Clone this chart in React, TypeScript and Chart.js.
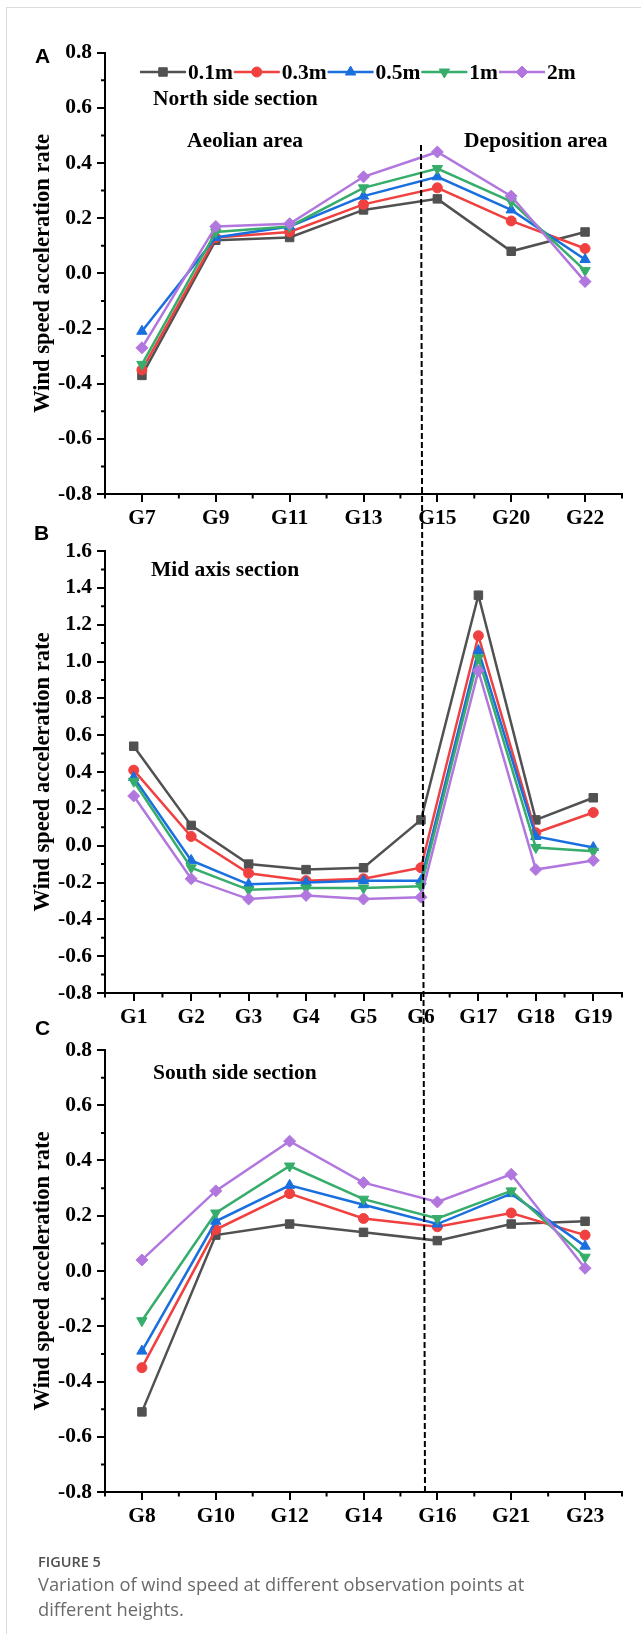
import React, { useEffect, useRef } from 'react';
import { Chart, registerables } from 'chart.js';
import { drawPoint } from 'chart.js/helpers';

Chart.register(...registerables);

// ---------- data ----------
const SERIES_NAMES = ['0.1m', '0.3m', '0.5m', '1m', '2m'];
const COLORS = ['#515151', '#F14040', '#1A6FDF', '#37AD6B', '#B177DE'];
const POINT_STYLES = ['rect', 'circle', 'triangle', 'triangle', 'rectRot'];
const POINT_ROTATIONS = [0, 0, 0, 180, 0];
const POINT_RADII = [6, 5, 6, 6, 6];

const northCategories = ['G7', 'G9', 'G11', 'G13', 'G15', 'G20', 'G22'];
const north01 = [-0.37, 0.12, 0.13, 0.23, 0.27, 0.08, 0.15];
const north03 = [-0.35, 0.13, 0.15, 0.25, 0.31, 0.19, 0.09];
const north05 = [-0.21, 0.13, 0.17, 0.28, 0.35, 0.23, 0.05];
const north1 = [-0.33, 0.15, 0.17, 0.31, 0.38, 0.26, 0.01];
const north2 = [-0.27, 0.17, 0.18, 0.35, 0.44, 0.28, -0.03];

const midCategories = ['G1', 'G2', 'G3', 'G4', 'G5', 'G6', 'G17', 'G18', 'G19'];
const mid01 = [0.54, 0.11, -0.1, -0.13, -0.12, 0.14, 1.36, 0.14, 0.26];
const mid03 = [0.41, 0.05, -0.15, -0.19, -0.18, -0.12, 1.14, 0.07, 0.18];
const mid05 = [0.37, -0.08, -0.21, -0.2, -0.19, -0.19, 1.06, 0.05, -0.01];
const mid1 = [0.35, -0.12, -0.24, -0.23, -0.23, -0.22, 1.02, -0.01, -0.03];
const mid2 = [0.27, -0.18, -0.29, -0.27, -0.29, -0.28, 0.95, -0.13, -0.08];

const southCategories = ['G8', 'G10', 'G12', 'G14', 'G16', 'G21', 'G23'];
const south01 = [-0.51, 0.13, 0.17, 0.14, 0.11, 0.17, 0.18];
const south03 = [-0.35, 0.15, 0.28, 0.19, 0.16, 0.21, 0.13];
const south05 = [-0.29, 0.18, 0.31, 0.24, 0.17, 0.28, 0.09];
const south1 = [-0.18, 0.21, 0.38, 0.26, 0.19, 0.29, 0.05];
const south2 = [0.04, 0.29, 0.47, 0.32, 0.25, 0.35, 0.01];

const northRange = [-0.8, 0.8];
const midRange = [-0.8, 1.6];
const southRange = [-0.8, 0.8];
const Y_STEP = 0.2;
const Y_TITLE = 'Wind speed acceleration rate';

// ---------- styling ----------
const SERIF = '"Liberation Serif", "Times New Roman", serif';
const tickFont = { family: SERIF, size: 21.5, weight: 'bold' as const };

const decorPlugin = {
  id: 'decor',
  afterDraw(chart: any, _args: any, opts: any) {
    const { ctx, chartArea } = chart;
    const xs = chart.scales.x;
    const ys = chart.scales.y;
    ctx.save();
    ctx.strokeStyle = '#000';
    ctx.lineWidth = 2;
    ctx.beginPath();
    const n = chart.data.labels.length;
    for (let i = 0; i <= n; i++) {
      const px = xs.getPixelForValue(i - 0.5);
      ctx.moveTo(px, chartArea.bottom);
      ctx.lineTo(px, chartArea.bottom + 4.5);
    }
    const k0 = Math.round(ys.min * 10);
    const k1 = Math.round(ys.max * 10);
    for (let k = k0; k <= k1; k++) {
      if (k % 2 !== 0) {
        const py = ys.getPixelForValue(k / 10);
        ctx.moveTo(chartArea.left - 4, py);
        ctx.lineTo(chartArea.left, py);
      }
    }
    ctx.stroke();

    if (opts && opts.withLegend) {
      let lx = 140;
      const ly = 72;
      ctx.font = `bold 21.5px ${SERIF}`;
      ctx.textBaseline = 'middle';
      ctx.textAlign = 'left';
      chart.data.datasets.forEach((ds: any, i: number) => {
        ctx.strokeStyle = COLORS[i];
        ctx.lineWidth = 2.5;
        ctx.beginPath();
        ctx.moveTo(lx, ly);
        ctx.lineTo(lx + 46, ly);
        ctx.stroke();
        ctx.fillStyle = COLORS[i];
        ctx.lineWidth = 1;
        drawPoint(ctx, {
          pointStyle: POINT_STYLES[i],
          rotation: POINT_ROTATIONS[i],
          radius: POINT_RADII[i],
          borderWidth: 1,
        } as any, lx + 23, ly);
        ctx.fillStyle = '#000';
        ctx.fillText(ds.label, lx + 48, ly + 1);
        lx += 48 + ctx.measureText(ds.label).width + 1;
      });
    }
    ctx.restore();
  },
};

type PanelProps = {
  top: number;
  height: number;
  plotTop: number;
  plotBottom: number;
  categories: string[];
  series: number[][];
  range: number[];
  withLegend?: boolean;
};

function Panel({ top, height, plotTop, plotBottom, categories, series, range, withLegend }: PanelProps) {
  const ref = useRef<HTMLCanvasElement>(null);
  useEffect(() => {
    const chart = new Chart(ref.current as HTMLCanvasElement, {
      type: 'line',
      data: {
        labels: categories,
        datasets: series.map((d, i) => ({
          label: SERIES_NAMES[i],
          data: d,
          borderColor: COLORS[i],
          backgroundColor: COLORS[i],
          borderWidth: 2.5,
          pointStyle: POINT_STYLES[i] as any,
          pointRotation: POINT_ROTATIONS[i],
          pointRadius: POINT_RADII[i],
          pointBackgroundColor: COLORS[i],
          pointBorderColor: COLORS[i],
          pointBorderWidth: 1,
          tension: 0,
          fill: false,
          order: 4 - i,
        })),
      },
      options: {
        responsive: false,
        animation: false,
        events: [],
        layout: { padding: { left: 0, right: 19, top: plotTop - top, bottom: 0 } },
        plugins: {
          legend: { display: false },
          tooltip: { enabled: false },
          decor: { withLegend: !!withLegend },
        } as any,
        scales: {
          x: {
            type: 'category',
            offset: true,
            grid: {
              display: true,
              drawOnChartArea: false,
              drawTicks: true,
              tickLength: 8,
              offset: false,
              color: '#000',
              lineWidth: 2,
            },
            border: { display: true, color: '#000', width: 2 },
            ticks: { font: tickFont, color: '#000', padding: 4, maxRotation: 0, autoSkip: false },
            afterFit: (s: any) => {
              s.height = top + height - plotBottom;
            },
          },
          y: {
            min: range[0],
            max: range[1],
            ticks: {
              stepSize: Y_STEP,
              font: tickFont,
              color: '#000',
              padding: 5,
              callback: (v: any) => {
                const r = Math.round(Number(v) * 10) / 10;
                return (r === 0 ? 0 : r).toFixed(1);
              },
            },
            grid: { drawOnChartArea: false, drawTicks: true, tickLength: 8, color: '#000', lineWidth: 2 },
            border: { display: true, color: '#000', width: 2 },
            title: {
              display: true,
              text: Y_TITLE,
              color: '#000',
              font: { family: SERIF, size: 22.5, weight: 'bold' },
              padding: { top: 30, bottom: 0 },
            },
            afterFit: (s: any) => {
              s.width = 105;
            },
          },
        },
      } as any,
      plugins: [decorPlugin],
    });
    return () => chart.destroy();
  }, []);
  return (
    <canvas
      ref={ref}
      width={641}
      height={height}
      style={{ position: 'absolute', left: 0, top, width: 641, height }}
    />
  );
}

const textStyle = (left: number, centerY: number, size = 21.5): React.CSSProperties => ({
  position: 'absolute',
  left,
  top: centerY - 13,
  lineHeight: '26px',
  height: 26,
  fontFamily: SERIF,
  fontWeight: 'bold',
  fontSize: size,
  color: '#000',
  whiteSpace: 'nowrap',
});

const letterStyle = (left: number, centerY: number): React.CSSProperties => ({
  position: 'absolute',
  left,
  top: centerY - 13,
  lineHeight: '26px',
  fontFamily: '"Liberation Sans", Arial, sans-serif',
  fontWeight: 'bold',
  fontSize: 21,
  color: '#000',
});

export default function App() {
  return (
    <div style={{ position: 'absolute', left: 0, top: 0, width: 641, height: 1634, overflow: 'hidden', background: '#fff' }}>
      <div
        style={{
          position: 'absolute',
          left: 6,
          top: 7,
          width: 700,
          height: 1700,
          border: '1px solid #dcdcdc',
          boxSizing: 'border-box',
        }}
      />
      <Panel
        top={0}
        height={540}
        plotTop={52.7}
        plotBottom={494}
        categories={northCategories}
        series={[north01, north03, north05, north1, north2]}
        range={northRange}
        withLegend
      />
      <Panel
        top={500}
        height={540}
        plotTop={551}
        plotBottom={993}
        categories={midCategories}
        series={[mid01, mid03, mid05, mid1, mid2]}
        range={midRange}
      />
      <Panel
        top={1000}
        height={540}
        plotTop={1050}
        plotBottom={1492}
        categories={southCategories}
        series={[south01, south03, south05, south1, south2]}
        range={southRange}
      />

      <div style={letterStyle(35, 56)}>A</div>
      <div style={letterStyle(34, 533)}>B</div>
      <div style={letterStyle(35, 1028)}>C</div>

      <div style={textStyle(153, 98)}>North side section</div>
      <div style={textStyle(187, 140)}>Aeolian area</div>
      <div style={textStyle(464, 140)}>Deposition area</div>
      <div style={textStyle(151, 569)}>Mid axis section</div>
      <div style={textStyle(153, 1072)}>South side section</div>

      <svg
        width={641}
        height={1634}
        style={{ position: 'absolute', left: 0, top: 0, pointerEvents: 'none' }}
      >
        <line x1={421} y1={145} x2={425} y2={1493} stroke="#000" strokeWidth={2} strokeDasharray="6 3" />
      </svg>

      <div
        style={{
          position: 'absolute',
          left: 38,
          top: 1552,
          fontFamily: '"Open Sans", "Noto Sans", sans-serif',
          fontSize: 14.5,
          fontWeight: 600,
          lineHeight: '20px',
          color: '#4f4f4f',
          whiteSpace: 'nowrap',
        }}
      >
        FIGURE 5
      </div>
      <div
        style={{
          position: 'absolute',
          left: 38,
          top: 1570.5,
          fontFamily: '"Open Sans", "Noto Sans", sans-serif',
          fontSize: 18.3,
          lineHeight: '25px',
          color: '#6a6a6a',
          whiteSpace: 'nowrap',
        }}
      >
        Variation of wind speed at different observation points at
        <br />
        different heights.
      </div>
    </div>
  );
}
